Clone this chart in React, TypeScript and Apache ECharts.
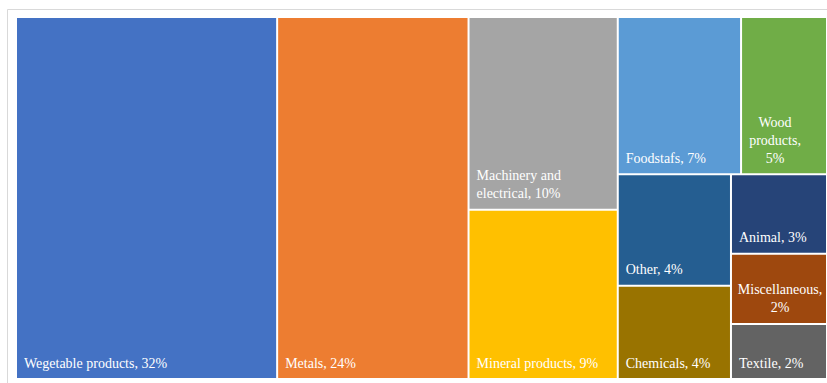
import React, { useEffect, useRef } from 'react';
import * as echarts from 'echarts';

// Categories and their shares (%)
const categories = [
  'Wegetable products',
  'Metals',
  'Machinery and electrical',
  'Mineral products',
  'Foodstafs',
  'Wood products',
  'Other',
  'Chemicals',
  'Animal',
  'Miscellaneous',
  'Textile',
];
const shares = [32.2, 23.6, 9.8, 8.6, 6.6, 4.6, 4.3, 3.6, 2.6, 2.3, 1.8];
const colors = [
  '#4472C4',
  '#ED7D31',
  '#A5A5A5',
  '#FFC000',
  '#5B9BD5',
  '#70AD47',
  '#255E91',
  '#997300',
  '#264478',
  '#9E480E',
  '#636363',
];

// Grouping of the tiles (indices into categories)
const nesting: any[] = [0, 1, [[2, 3], [[4, 5], [[6, 7], [8, 9, 10]]]]];

// How some labels wrap
const nameBreaks: Record<string, string> = {
  'Machinery and electrical': 'Machinery and\nelectrical',
  'Wood products': 'Wood\nproducts',
};
// Labels whose lines are centred, with a small horizontal nudge
const centeredLabels: Record<string, number> = { 'Wood products': -9, Miscellaneous: 1 };

const LINE = 18;

function labelText(i: number): string {
  const name = nameBreaks[categories[i]] ?? categories[i];
  const pct = Math.round(shares[i]) + '%';
  return categories[i] in centeredLabels ? `${name},\n${pct}` : `${name}, ${pct}`;
}

function build(node: any): any {
  if (typeof node === 'number') {
    const text = labelText(node);
    const lines = text.split('\n').length;
    const centered = categories[node] in centeredLabels;
    return {
      name: categories[node],
      value: shares[node],
      itemStyle: { color: colors[node], borderColor: '#ffffff', borderWidth: 1 },
      label: {
        formatter: text,
        position: centered ? 'insideBottom' : 'insideBottomLeft',
        align: centered ? 'center' : 'left',
        offset: [centered ? centeredLabels[categories[node]] : 7, -(lines * LINE + 6)],
      },
    };
  }
  return {
    name: '',
    children: node.map(build),
    itemStyle: { borderWidth: 0, gapWidth: 0 },
  };
}

export default function App() {
  const ref = useRef<HTMLDivElement>(null);
  useEffect(() => {
    if (!ref.current) return;
    const chart = echarts.init(ref.current, null, { renderer: 'svg' });
    chart.setOption({
      animation: false,
      backgroundColor: '#ffffff',
      graphic: [
        {
          type: 'rect',
          silent: true,
          z: -1,
          shape: { x: 7.5, y: 9.5, width: 840, height: 390 },
          style: { fill: 'none', stroke: '#d9d9d9', lineWidth: 1 },
        },
      ],
      series: [
        {
          type: 'treemap',
          left: 16,
          top: 17,
          width: 811,
          height: 362,
          squareRatio: 1.05,
          sort: false,
          roam: false,
          nodeClick: false,
          breadcrumb: { show: false },
          itemStyle: { borderWidth: 0, gapWidth: 0, borderColor: '#ffffff' },
          upperLabel: { show: false },
          label: {
            show: true,
            color: '#ffffff',
            fontFamily: 'Liberation Serif',
            fontSize: 14,
            lineHeight: LINE,
            distance: 0,
            padding: 0,
            verticalAlign: 'top',
            overflow: 'none',
          },
          emphasis: { disabled: true },
          data: nesting.map(build),
        },
      ],
    });
    return () => chart.dispose();
  }, []);
  return (
    <div
      ref={ref}
      style={{ position: 'absolute', left: 0, top: 0, width: 827, height: 383 }}
    />
  );
}
